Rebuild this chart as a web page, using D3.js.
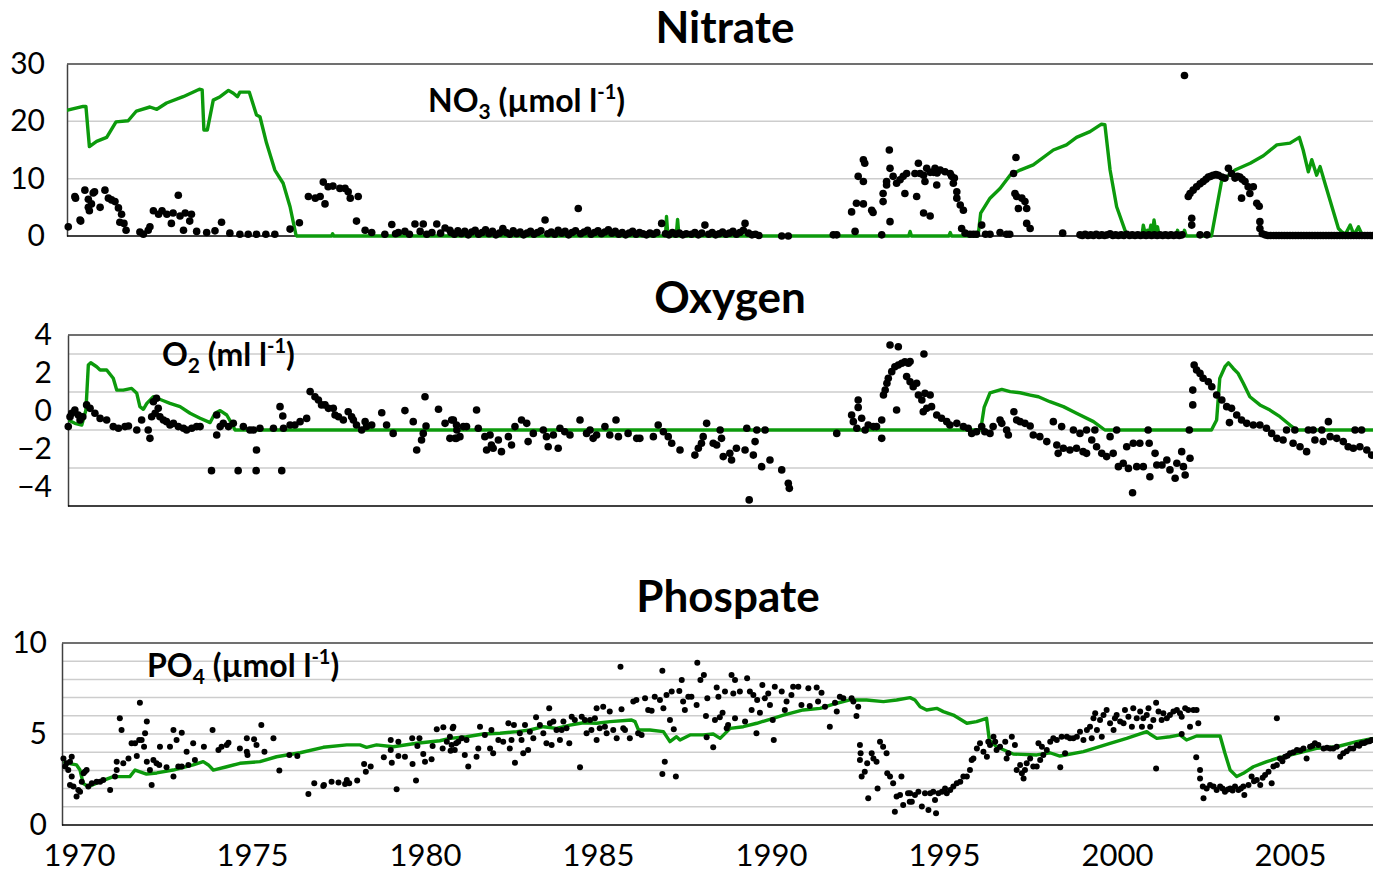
<!DOCTYPE html>
<html><head><meta charset="utf-8">
<script src="https://cdn.jsdelivr.net/npm/d3@7"></script>
<style>
body{margin:0;background:#fff}
svg{display:block}
text{font-family:Lato,"Open Sans",sans-serif;fill:#000}
</style>
</head><body>
<svg id="chart" width="1373" height="874"></svg>
<script>
// ---------------- DATA ----------------
const yearTicks = [1970,1975,1980,1985,1990,1995,2000,2005];
const nitrateTicks = [0,10,20,30];
const nitrateGrid = [10,20];
const oxygenTicks = [-4,-2,0,2,4];
const oxygenGrid = [-3,-1,1,3];
const phosphateTicks = [0,5,10];
const phosphateGrid = [1,2,3,4,5,6,7,8,9];

const nitrateModel = [[1969.64,21.9],[1970.12,22.6],[1970.2,22.6],[1970.3,15.6],[1970.51,16.5],[1970.8,17.2],[1971.07,19.9],[1971.42,20.1],[1971.66,21.8],[1972.05,22.5],[1972.25,22.1],[1972.53,23.2],[1973.01,24.3],[1973.48,25.6],[1973.56,25.5],[1973.61,18.5],[1973.71,18.5],[1973.88,23.7],[1974.08,24.3],[1974.32,25.4],[1974.46,24.9],[1974.58,24.3],[1974.65,25.1],[1974.92,25.1],[1975.13,21.1],[1975.23,20.8],[1975.42,16.2],[1975.66,11.5],[1975.9,9.2],[1976.1,5.1],[1976.27,0.2],[1976.3,0],[1977.3,0],[1977.33,0.4],[1977.36,0],[1986.95,0],[1986.98,3.4],[1987.02,0],[1987.26,0],[1987.3,2.9],[1987.34,0],[1993.98,0],[1994.02,0.8],[1994.06,0],[1995.14,0],[1995.18,0.6],[1995.22,0],[1995.97,0],[1996.0,0.8],[1996.06,4.0],[1996.33,6.6],[1996.62,8.3],[1996.91,10.6],[1997.2,11.5],[1997.58,12.4],[1998.16,15.0],[1998.54,15.9],[1998.83,17.2],[1999.22,18.2],[1999.55,19.5],[1999.65,19.4],[1999.8,11.5],[1999.99,5.1],[2000.26,0.5],[2000.3,0],[2000.72,0],[2000.76,1.9],[2000.82,0.3],[2000.88,1.0],[2000.93,0.4],[2000.98,1.9],[2001.03,0.6],[2001.07,2.8],[2001.12,0.8],[2001.17,1.6],[2001.22,0],[2001.7,0],[2001.75,1.0],[2001.8,0],[2001.9,0],[2001.95,1.0],[2002.0,0],[2002.73,0],[2003.02,9.5],[2003.41,11.5],[2003.85,12.7],[2004.23,14.0],[2004.62,15.9],[2005.0,16.2],[2005.27,17.2],[2005.38,15.0],[2005.53,11.2],[2005.63,13.3],[2005.77,10.6],[2005.87,12.1],[2006.01,9.2],[2006.4,1.3],[2006.49,0.75],[2006.6,0.3],[2006.74,1.9],[2006.85,0.2],[2006.98,1.6],[2007.1,0],[2007.6,0]];

const nitrateObs = [[1969.69,1.6],[1969.88,6.9],[1969.9,6.6],[1970.03,2.8],[1970.05,2.6],[1970.17,8.0],[1970.27,6.4],[1970.27,5.0],[1970.41,7.5],[1970.45,7.7],[1970.36,5.6],[1970.3,4.4],[1970.61,5.0],[1970.75,8.0],[1970.85,6.6],[1970.94,6.3],[1971.04,6.0],[1971.14,4.9],[1971.23,3.8],[1971.18,2.4],[1971.3,2.2],[1971.36,1.0],[1971.76,0.7],[1971.86,0.3],[1972.0,1.0],[1972.05,1.6],[1972.15,4.4],[1972.3,3.8],[1972.4,4.4],[1972.54,3.8],[1972.67,2.2],[1972.72,4.0],[1972.87,7.1],[1972.92,3.5],[1973.07,4.0],[1973.2,2.6],[1973.25,3.8],[1973.02,1.0],[1973.4,0.8],[1973.69,0.6],[1973.93,0.9],[1974.12,2.4],[1974.36,0.5],[1974.65,0.3],[1974.89,0.3],[1975.13,0.3],[1975.4,0.3],[1975.66,0.3],[1976.1,1.2],[1976.37,2.3],[1976.63,6.9],[1976.83,6.6],[1976.97,6.9],[1977.06,9.4],[1977.11,5.6],[1977.2,8.6],[1977.34,8.7],[1977.54,8.3],[1977.69,8.3],[1977.78,7.7],[1977.84,6.6],[1978.07,6.9],[1978.02,2.6],[1978.27,1.0],[1978.46,0.6],[1978.84,0.3],[1979.04,2.0],[1979.15,0.4],[1979.23,0.6],[1979.42,0.8],[1979.55,0.3],[1979.71,2.1],[1979.95,2.1],[1979.86,0.8],[1980.05,0.3],[1980.2,0.6],[1980.34,2.1],[1980.45,0.5],[1980.58,1.4],[1980.72,1.0],
[1980.75,0.6],[1980.85,0.3],[1980.95,0.9],[1981.05,0.4],[1981.15,0.8],[1981.25,0.2],[1981.35,0.7],[1981.45,1.0],[1981.55,0.3],[1981.65,0.6],[1981.75,1.1],[1981.85,0.4],[1981.95,0.8],[1982.05,0.2],[1982.15,0.5],[1982.25,1.3],[1982.35,0.6],[1982.45,0.3],[1982.55,0.9],[1982.65,0.4],[1982.75,0.7],[1982.85,0.2],[1982.95,0.5],[1983.05,0.8],[1983.15,0.3],[1983.25,0.6],[1983.35,0.9],[1983.47,2.8],[1983.55,0.4],[1983.65,0.7],[1983.75,0.3],[1983.85,1.0],[1983.95,0.5],[1984.05,0.8],[1984.15,0.2],[1984.25,0.6],[1984.35,0.9],[1984.43,4.8],[1984.5,0.4],[1984.6,0.7],[1984.7,1.0],[1984.8,0.3],[1984.9,0.6],[1985.0,0.9],[1985.1,0.4],[1985.2,0.7],[1985.3,1.1],[1985.4,0.5],[1985.5,0.8],[1985.6,0.3],[1985.7,0.6],[1985.8,0.2],[1985.9,0.5],[1986.0,0.8],[1986.1,0.3],[1986.2,0.6],[1986.3,0.4],[1986.4,0.2],[1986.5,0.5],[1986.6,0.3],[1986.7,0.6],[1986.84,2.2],[1986.95,0.4],[1987.05,0.2],[1987.15,0.6],[1987.25,0.3],[1987.35,0.5],[1987.45,0.2],[1987.55,0.4],[1987.7,0.3],[1987.8,0.6],[1987.9,0.2],[1988.0,0.5],[1988.09,1.9],[1988.2,0.3],[1988.3,0.6],[1988.4,0.2],[1988.5,0.4],[1988.6,0.7],[1988.7,0.3],[1988.8,0.5],[1988.9,0.8],[1989.0,0.3],[1989.1,0.6],[1989.2,1.0],[1989.25,2.2],[1989.35,0.5],[1989.45,0.2],[1989.55,0.3],[1989.65,0.1],[1990.31,0.0],[1990.5,0.0],[1991.8,0.2],[1991.9,0.2],
[1992.33,4.2],[1992.43,0.8],[1992.47,5.7],[1992.52,10.4],[1992.67,9.5],[1992.67,13.3],[1992.71,12.7],[1992.67,5.6],[1992.91,4.5],[1992.95,4.1],[1993.2,0.2],[1993.24,7.4],[1993.24,6.0],[1993.34,9.5],[1993.34,8.9],[1993.42,15.0],[1993.44,11.8],[1993.44,2.5],[1993.53,10.4],[1993.63,9.2],[1993.73,9.8],[1993.82,10.4],[1993.87,7.4],[1993.92,10.9],
[1994.16,10.9],[1994.26,12.7],[1994.21,6.9],[1994.31,10.9],[1994.41,10.6],[1994.45,9.5],[1994.5,11.8],[1994.41,4.0],[1994.6,3.5],[1994.6,11.1],[1994.7,11.1],[1994.74,11.8],[1994.79,8.9],[1994.8,11.0],[1994.89,11.5],[1995.03,11.2],[1995.18,10.9],[1995.22,10.4],[1995.27,9.2],[1995.3,10.1],[1995.37,7.7],[1995.37,6.6],[1995.47,5.4],[1995.56,4.5],[1995.51,1.3],[1995.61,0.5],[1995.75,0.3],[1995.85,0.3],[1995.94,0.3],[1996.09,1.9],[1996.2,0.3],[1996.33,0.3],[1996.62,0.6],[1996.81,0.3],[1996.9,0.3],[1997.01,10.9],[1997.08,13.7],[1997.05,7.4],[1997.1,6.9],[1997.25,6.6],[1997.34,6.0],[1997.39,4.8],[1997.15,4.8],[1997.39,2.2],[1997.49,1.3],[1998.43,0.5],
[1998.93,0.2],[1999.0,0.1],[1999.08,0.3],[1999.16,0.1],[1999.24,0.2],[1999.32,0.1],[1999.4,0.3],[1999.48,0.1],[1999.56,0.2],[1999.64,0.1],[1999.72,0.2],[1999.8,0.4],[1999.88,0.1],[1999.96,0.2],[2000.04,0.1],[2000.12,0.2],[2000.2,0.1],[2000.28,0.3],[2000.36,0.1],[2000.44,0.2],[2000.52,0.1],[2000.6,0.2],[2000.68,0.1],[2000.76,0.2],[2000.84,0.1],[2000.92,0.2],[2001.0,0.1],[2001.08,0.2],[2001.16,0.1],[2001.24,0.2],[2001.32,0.1],[2001.4,0.2],[2001.48,0.1],[2001.56,0.2],[2001.64,0.1],[2001.72,0.2],[2001.8,0.1],[2001.88,0.2],
[2001.95,28.0],[2002.06,6.9],[2002.16,3.1],[2002.16,1.9],[2002.4,0.2],[2002.6,0.2],
[2002.11,7.4],[2002.2,8.0],[2002.3,8.6],[2002.4,9.1],[2002.49,9.5],[2002.57,9.9],[2002.64,10.3],[2002.71,10.4],[2002.78,10.6],[2002.86,10.7],[2002.93,10.6],[2003.03,10.3],[2003.12,10.1],[2003.22,11.8],[2003.31,10.9],[2003.41,10.1],[2003.48,10.4],[2003.55,10.3],[2003.62,9.9],[2003.7,9.5],[2003.79,8.6],[2003.94,8.6],[2003.6,6.6],[2003.84,7.4],[2004.04,5.7],[2004.11,5.2],[2004.13,2.5],[2004.13,1.3],
[2004.2,0.4],[2004.28,0.2],[2004.36,0.1],[2004.44,0.1],[2004.52,0.1],[2004.6,0.1],[2004.68,0.1],[2004.76,0.1],[2004.84,0.1],[2004.92,0.1],[2005.0,0.1],[2005.08,0.1],[2005.16,0.1],[2005.24,0.1],[2005.32,0.1],[2005.4,0.1],[2005.48,0.1],[2005.56,0.1],[2005.64,0.1],[2005.72,0.1],[2005.8,0.1],[2005.88,0.1],[2005.96,0.1],[2006.04,0.1],[2006.12,0.1],[2006.2,0.1],[2006.28,0.1],[2006.36,0.1],[2006.44,0.1],[2006.52,0.1],[2006.6,0.1],[2006.68,0.1],[2006.76,0.1],[2006.84,0.1],[2006.92,0.1],[2007.0,0.1],[2007.08,0.1],[2007.16,0.1],[2007.24,0.1],[2007.32,0.1],[2007.4,0.1]];

const oxygenModel = [[1969.69,-0.47],[1969.88,-0.65],[1970.08,-0.74],[1970.2,0.05],[1970.27,2.42],[1970.34,2.54],[1970.51,2.33],[1970.61,2.16],[1970.8,2.16],[1970.99,1.72],[1971.09,1.1],[1971.28,1.1],[1971.52,1.19],[1971.67,0.93],[1971.76,0.23],[1971.86,0.09],[1971.96,0.4],[1972.15,0.75],[1972.44,0.54],[1972.63,0.4],[1972.92,0.23],[1973.21,-0.12],[1973.5,-0.38],[1973.79,-0.61],[1973.93,-0.12],[1974.08,0.02],[1974.27,-0.21],[1974.41,-0.65],[1974.51,-1.0],[1996.05,-1.0],[1996.09,-0.65],[1996.16,0.19],[1996.33,0.96],[1996.67,1.14],[1996.91,1.02],[1997.2,0.96],[1997.49,0.84],[1997.73,0.75],[1998.06,0.49],[1998.45,0.23],[1998.83,-0.12],[1999.32,-0.56],[1999.65,-1.0],[2002.73,-1.0],[2002.88,-0.47],[2002.97,1.72],[2003.12,2.33],[2003.22,2.54],[2003.36,2.24],[2003.5,1.98],[2003.65,1.46],[2003.84,0.75],[2004.13,0.32],[2004.42,0.05],[2004.71,-0.3],[2005.0,-0.74],[2005.19,-1.0],[2007.6,-1.0]];

const oxygenObs = [[1969.69,-0.82],[1969.74,-0.3],[1969.79,-0.12],[1969.88,0.05],[1969.98,-0.21],[1970.03,-0.47],[1970.11,-0.3],[1970.22,0.32],[1970.32,0.14],[1970.46,-0.12],[1970.61,-0.39],[1970.8,-0.47],[1970.99,-0.82],[1971.14,-0.91],[1971.33,-0.82],[1971.43,-0.79],[1971.67,-1.0],[1971.81,-0.47],[1972.0,-1.0],[1972.05,-1.44],[1972.1,-0.3],[1972.15,0.49],[1972.24,0.67],[1972.2,-0.12],[1972.29,0.14],[1972.34,-0.3],[1972.44,-0.47],[1972.53,-0.56],[1972.63,-0.74],[1972.73,-0.65],[1972.87,-0.82],[1973.02,-0.91],[1973.11,-1.0],[1973.26,-0.91],[1973.4,-0.82],[1973.5,-0.82],[1973.83,-3.14],[1973.98,-0.21],[1973.98,-1.26],[1974.08,-0.82],[1974.17,-0.65],[1974.32,-0.82],[1974.46,-0.65],[1974.6,-3.14],[1974.75,-0.82],[1974.94,-1.0],[1975.04,-1.0],[1975.23,-0.91],[1975.13,-2.05],[1975.12,-3.14],[1975.62,-0.91],[1975.81,0.23],[1975.89,-0.26],[1975.86,-3.14],[1975.91,-0.91],[1976.1,-0.74],[1976.24,-0.74],[1976.39,-0.56],[1976.58,-0.39],[1976.68,1.02],[1976.82,0.75],[1976.92,0.58],[1977.01,0.32],[1977.11,0.32],[1977.21,0.14],[1977.35,0.14],[1977.4,-0.21],[1977.5,-0.3],[1977.64,-0.47],[1977.78,-0.04],[1977.88,-0.3],[1977.93,-0.47],[1978.02,-0.74],[1978.17,-1.0],[1978.27,-0.56],[1978.31,-0.82],[1978.46,-0.74],[1978.75,-0.09],[1978.89,-0.74],[1979.08,-1.18],[1979.42,0.02],[1979.66,-0.56],[1979.76,-2.05],[1979.9,-1.53],[1979.95,-1.18],[1980.0,0.75],[1980.03,-0.79],[1980.39,0.09],[1980.58,-0.65],[1980.77,-0.47],[1980.87,-1.44],[1980.92,-1.0],
[1980.82,-0.47],[1980.91,-0.74],[1981.11,-0.82],[1981.2,-0.82],[1980.72,-1.44],[1980.91,-1.44],[1981.01,-1.35],[1981.49,0.05],[1981.54,-0.91],[1981.73,-1.35],[1981.88,-1.26],[1981.92,-1.79],[1981.78,-2.05],[1981.97,-1.96],[1982.12,-1.53],[1982.21,-2.14],[1982.41,-1.35],[1982.5,-1.79],[1982.6,-0.82],[1982.79,-0.47],[1982.94,-0.65],[1982.98,-1.61],[1983.13,-1.18],[1983.42,-1.0],[1983.51,-1.35],[1983.56,-1.88],[1983.71,-1.26],[1983.85,-1.96],[1983.9,-0.91],[1984.04,-1.09],[1984.19,-1.26],[1984.48,-0.47],[1984.67,-1.18],[1984.77,-1.0],[1984.86,-1.44],[1984.96,-1.26],[1985.2,-0.82],[1985.34,-1.26],[1985.52,-0.47],[1985.59,-1.35],[1985.87,-1.18],[1986.12,-1.44],[1986.21,-1.44],[1986.6,-1.35],[1986.74,-0.74],[1986.89,-1.09],[1987.03,-1.35],[1987.13,-1.7],[1987.37,-2.05],
[1987.8,-2.32],[1987.9,-1.96],[1987.99,-1.7],[1988.04,-1.35],[1988.14,-0.65],[1988.33,-1.7],[1988.43,-1.79],[1988.53,-1.0],[1988.57,-1.44],[1988.62,-2.4],[1988.81,-2.23],[1988.86,-2.58],[1989.0,-1.96],[1989.25,-2.05],[1989.3,-0.91],[1989.37,-4.68],[1989.49,-2.32],[1989.54,-1.61],[1989.59,-1.0],[1989.73,-2.93],[1989.83,-1.0],[1989.97,-2.58],[1990.31,-3.1],[1990.5,-3.8],[1990.53,-4.07],
[1991.9,-1.18],[1992.33,-0.21],[1992.52,0.58],[1992.52,0.19],[1992.38,-0.56],[1992.48,-0.91],[1992.62,-0.38],[1992.72,-1.0],[1992.81,-0.74],[1992.96,-0.82],[1993.05,-0.82],[1993.2,-0.47],[1993.2,-1.44],[1993.44,3.47],[1993.68,3.38],[1993.25,0.84],[1993.3,1.1],[1993.35,1.46],[1993.39,1.72],[1993.49,2.07],[1993.58,2.33],[1993.68,2.42],[1993.78,2.51],[1993.87,2.59],[1993.97,2.51],[1993.63,0.05],[1993.92,1.81],
[1994.42,3.0],[1994.02,2.6],[1994.02,1.54],[1994.11,1.28],[1994.21,1.46],[1994.26,0.84],[1994.36,0.58],[1994.45,0.93],[1994.6,0.84],[1994.5,0.14],[1994.4,-0.04],[1994.64,0.23],[1994.79,-0.21],[1994.93,-0.38],[1995.08,-0.56],[1995.17,-0.74],[1995.37,-0.65],[1995.56,-0.82],[1995.7,-0.91],[1995.8,-1.18],[1995.94,-1.09],[1996.09,-0.82],[1996.18,-1.09],[1996.33,-1.18],[1996.42,-0.82],[1996.62,-0.47],[1996.67,-0.65],[1996.81,-1.0],[1996.86,-1.26],[1997.02,-0.04],[1997.1,-0.47],[1997.2,-0.56],[1997.34,-0.65],[1997.49,-0.79],[1997.58,-1.26],[1997.77,-1.35],[1997.97,-1.61],[1998.16,-0.56],[1998.26,-1.79],[1998.3,-2.23],[1998.4,-0.82],[1998.45,-1.96],[1998.64,-2.05],[1998.74,-1.0],[1998.83,-1.96],[1998.93,-1.18],[1999.02,-2.14],[1999.12,-2.23],[1999.12,-1.0],[1999.27,-1.53],[1999.36,-1.0],[1999.41,-1.88],[1999.56,-2.23],[1999.7,-2.4],[1999.8,-1.35],[1999.89,-2.23],[1999.99,-1.0],[2000.04,-2.93],[2000.18,-2.75],[2000.28,-1.88],[2000.33,-3.02],[2000.45,-4.3],[2000.47,-1.7],[2000.57,-2.93],[2000.66,-1.7],[2000.76,-2.93],[2000.9,-1.0],[2000.93,-1.7],[2000.95,-3.46],[2001.1,-2.23],[2001.15,-2.84],[2001.3,-2.84],[2001.44,-2.58],[2001.53,-3.1],[2001.68,-3.54],[2001.73,-2.75],[2001.87,-2.14],[2001.92,-2.93],[2001.97,-3.37],[2002.11,-2.49],[2002.09,-1.0],[2002.19,0.32],[2002.19,1.1],[2002.23,2.42],[2002.3,2.16],[2002.4,1.98],[2002.49,1.72],[2002.64,1.54],[2002.74,1.28],[2002.88,0.84],[2003.03,0.58],[2003.17,0.23],[2003.25,-0.61],[2003.31,0.14],[2003.46,-0.21],[2003.6,-0.47],[2003.75,-0.65],[2003.94,-0.74],[2004.13,-0.74],[2004.32,-0.91],[2004.47,-1.18],[2004.62,-1.44],[2004.8,-1.53],[2004.9,-1.0],[2005.14,-1.0],[2005.09,-1.7],[2005.29,-1.88],[2005.48,-2.14],[2005.53,-1.0],[2005.67,-1.0],[2005.72,-1.53],[2005.92,-1.0],[2005.96,-1.61],[2006.11,-0.56],[2006.16,-1.35],[2006.35,-1.44],[2006.54,-1.61],[2006.68,-1.88],[2006.88,-1.0],[2007.07,-1.0],[2006.83,-1.96],[2007.02,-1.88],[2007.22,-2.05],[2007.36,-2.32]];

const phosphateModel = [[1969.55,3.48],[1969.69,3.39],[1969.93,3.3],[1970.03,3.02],[1970.12,2.29],[1970.27,2.1],[1970.61,2.38],[1970.99,2.66],[1971.47,2.66],[1971.62,3.02],[1971.95,2.8],[1972.25,2.86],[1972.72,3.02],[1973.3,3.3],[1973.59,3.48],[1973.74,3.3],[1973.88,3.02],[1974.27,3.2],[1974.65,3.39],[1975.23,3.48],[1975.71,3.75],[1976.39,3.97],[1977.06,4.27],[1977.74,4.4],[1978.12,4.4],[1978.31,4.27],[1978.6,4.4],[1979.08,4.3],[1979.76,4.49],[1980.43,4.63],[1980.72,4.76],[1981.2,4.85],[1981.68,5.0],[1982.17,5.04],[1982.65,5.13],[1983.03,5.22],[1983.42,5.4],[1983.8,5.31],[1984.19,5.49],[1984.58,5.62],[1984.96,5.59],[1985.35,5.68],[1985.97,5.77],[1986.07,5.68],[1986.17,5.22],[1986.5,5.22],[1986.89,5.13],[1987.08,4.58],[1987.27,4.85],[1987.37,4.67],[1987.66,4.95],[1988.04,4.95],[1988.33,5.0],[1988.53,4.76],[1988.82,5.31],[1989.2,5.4],[1989.59,5.59],[1989.97,5.81],[1990.36,6.04],[1990.93,6.32],[1991.42,6.41],[1991.9,6.69],[1992.28,6.87],[1992.76,6.87],[1993.25,6.78],[1993.63,6.87],[1994.02,7.0],[1994.16,6.87],[1994.31,6.5],[1994.5,6.32],[1994.79,6.41],[1994.98,6.23],[1995.27,6.04],[1995.66,5.59],[1995.94,5.68],[1996.23,5.86],[1996.31,4.67],[1996.52,4.3],[1997.0,3.9],[1997.68,3.85],[1998.06,3.97],[1998.35,3.79],[1999.03,4.03],[1999.8,4.49],[2000.28,4.76],[2000.86,5.13],[2000.95,5.0],[2001.15,4.76],[2001.53,4.85],[2001.82,4.95],[2002.01,4.67],[2002.3,4.89],[2002.98,4.89],[2003.12,3.94],[2003.27,3.02],[2003.46,2.66],[2003.65,2.84],[2003.94,3.2],[2004.33,3.48],[2004.62,3.66],[2005.2,3.94],[2005.77,4.21],[2006.35,4.3],[2006.93,4.58],[2007.4,4.76],[2007.6,4.85]];

const phosphateObs = [[1969.55,3.66],[1969.6,3.21],[1969.64,3.39],[1969.69,3.02],[1969.74,3.48],[1969.79,3.75],[1969.79,2.66],[1969.74,2.2],[1969.84,2.11],[1969.93,1.56],[1969.98,1.92],[1970.03,1.83],[1970.08,2.38],[1970.13,2.84],[1970.17,2.93],[1970.22,3.02],[1970.27,2.11],[1970.37,2.29],[1970.51,2.38],[1970.61,2.38],[1970.7,2.47],[1970.9,1.92],[1971.04,2.66],[1971.09,3.02],[1971.09,3.48],[1971.18,5.86],[1971.23,5.22],[1971.28,3.39],[1971.43,3.66],[1971.52,4.49],[1971.62,4.49],[1971.67,3.79],[1971.74,4.67],[1971.76,6.72],[1971.81,4.67],[1971.88,4.3],[1971.91,5.04],[1971.96,5.68],[1971.96,3.48],[1972.05,3.02],[1972.1,2.2],[1972.15,3.57],[1972.24,3.39],[1972.32,3.3],[1972.34,4.3],[1972.53,3.17],[1972.63,4.3],[1972.73,2.66],[1972.73,5.22],[1972.82,4.67],[1972.87,3.21],[1972.97,3.21],[1972.97,5.07],[1973.11,4.03],[1973.16,3.3],[1973.3,4.49],[1973.35,3.57],[1973.61,4.3],[1973.86,5.22],[1974.03,4.12],[1974.12,4.3],[1974.27,4.4],[1974.32,4.52],[1974.65,4.21],[1974.85,4.76],[1974.85,4.03],[1974.87,3.85],[1975.06,4.71],[1975.13,4.4],[1975.27,5.49],[1975.36,4.03],[1975.62,4.76],[1975.79,2.99],[1976.08,3.85],[1976.31,3.79],[1976.63,1.7],[1976.8,2.29],[1977.06,2.14],[1977.08,2.2],[1977.3,2.38],[1977.5,2.33],[1977.69,2.25],[1977.74,2.47],[1977.81,2.29],[1978.04,2.44],[1978.24,3.35],[1978.29,2.93],[1978.43,3.21],[1978.81,3.72],[1979.01,4.12],[1979.04,3.42],[1979.01,4.67],[1979.18,1.96],[1979.23,4.58],[1979.23,3.79],[1979.42,3.75],[1979.63,4.76],[1979.64,3.35],[1979.74,2.44],[1979.78,4.34],[1979.84,4.76],[1979.95,3.9],[1980.0,3.48],[1980.19,3.61],[1980.22,4.34],[1980.34,5.26],[1980.51,4.21],[1980.53,5.37],[1980.63,4.58],[1980.74,4.08],[1980.8,5.31],[1980.9,4.49],
[1980.82,5.4],[1980.72,4.85],[1980.77,4.4],[1980.86,4.12],[1980.96,4.58],[1981.06,4.76],[1981.15,3.85],[1981.25,3.21],[1981.2,4.67],[1981.49,3.75],[1981.54,4.21],[1981.59,5.4],[1981.73,4.95],[1981.88,4.21],[1981.92,5.22],[1981.97,3.94],[1982.12,4.67],[1982.26,4.58],[1982.41,5.59],[1982.45,4.21],[1982.5,4.67],[1982.57,5.49],[1982.6,3.42],[1982.74,5.04],[1982.79,4.67],[1982.84,3.94],[1982.89,5.49],[1982.98,4.12],[1983.03,5.13],[1983.13,4.76],[1983.21,5.92],[1983.32,5.49],[1983.42,5.04],[1983.51,4.49],[1983.59,6.41],[1983.61,5.59],[1983.66,4.4],[1983.71,5.68],[1983.8,5.22],[1983.9,4.67],[1983.95,5.22],[1984.0,5.68],[1984.09,5.31],[1984.17,4.49],[1984.24,5.95],[1984.33,5.77],[1984.48,3.17],[1984.53,5.95],[1984.62,5.77],[1984.67,5.04],[1984.77,5.77],[1984.81,5.22],[1984.91,5.86],[1984.96,4.67],[1984.96,6.41],[1985.05,5.31],[1985.15,6.5],[1985.2,5.4],[1985.25,5.04],[1985.34,6.23],[1985.44,5.22],[1985.54,4.76],[1985.65,8.7],[1985.68,6.36],[1985.73,5.31],[1985.78,5.22],[1985.92,4.76],[1986.02,6.78],[1986.11,6.87],[1986.16,5.04],[1986.26,4.95],[1986.36,6.96],[1986.45,6.32],[1986.55,6.28],[1986.64,7.05],[1986.79,6.87],[1986.86,8.48],[1986.89,6.41],[1986.86,2.8],[1986.93,3.48],[1986.98,7.14],[1987.08,5.77],[1987.13,7.33],[1987.19,5.26],[1987.25,2.66],[1987.35,7.36],[1987.42,7.97],[1987.46,6.78],[1987.51,6.32],[1987.61,7.05],[1987.7,7.05],[1987.85,6.59],[1987.87,8.92],[1987.96,7.97],[1988.06,8.24],[1988.12,5.99],[1988.14,4.82],[1988.16,6.96],[1988.33,4.27],[1988.38,5.77],[1988.43,7.56],[1988.48,7.05],[1988.52,5.92],[1988.6,6.17],[1988.67,7.33],[1988.72,5.31],[1988.76,5.49],[1988.86,8.24],[1988.91,7.23],[1988.96,5.86],[1988.96,7.97],[1989.1,7.33],[1989.25,5.68],[1989.31,8.06],[1989.39,7.33],[1989.44,6.32],[1989.49,7.14],[1989.58,5.04],[1989.6,6.87],[1989.68,6.17],[1989.75,7.69],[1989.82,6.96],[1989.92,7.23],[1989.97,6.59],[1990.05,5.77],[1990.08,4.67],[1990.11,7.6],[1990.31,7.33],[1990.4,6.32],[1990.45,6.78],[1990.59,7.14],[1990.64,7.6],[1990.79,7.6],[1990.88,6.59],[1991.08,7.51],[1991.12,6.54],[1991.32,7.56],[1991.36,6.78],[1991.46,7.27],[1991.56,6.5],[1991.7,5.4],[1991.85,6.72],[1991.9,6.23],[1991.99,7.05],[1992.09,6.96],[1992.33,6.96],[1992.38,6.78],[1992.47,5.99],[1992.52,6.5],[1992.57,4.4],[1992.59,3.94],[1992.57,3.57],[1992.62,2.66],[1992.71,2.93],[1992.78,3.39],[1992.81,1.47],[1992.91,3.94],[1992.96,3.66],[1993.05,3.48],[1993.08,2.01],[1993.15,4.58],[1993.24,4.3],[1993.34,3.94],[1993.36,2.84],[1993.44,2.66],[1993.53,2.29],[1993.58,0.73],[1993.63,1.56],[1993.73,1.65],[1993.77,2.66],[1993.82,1.1],[1993.96,1.74],[1994.01,1.28],
[1994.02,1.74],[1994.07,1.28],[1994.16,1.65],[1994.26,1.83],[1994.36,1.01],[1994.45,1.74],[1994.55,0.82],[1994.6,1.74],[1994.69,1.83],[1994.77,0.64],[1994.74,1.37],[1994.84,1.74],[1994.94,1.83],[1995.03,2.01],[1995.08,1.74],[1995.18,1.92],[1995.27,2.11],[1995.37,2.29],[1995.47,2.38],[1995.56,2.66],[1995.66,2.66],[1995.75,3.02],[1995.8,3.57],[1995.85,3.66],[1995.95,4.21],[1996.04,4.49],[1996.14,4.03],[1996.24,3.75],[1996.28,4.58],[1996.33,4.4],[1996.43,4.85],[1996.48,4.58],[1996.52,4.12],[1996.62,4.3],[1996.77,4.58],[1996.81,3.66],[1996.86,3.94],[1996.96,4.85],[1997.05,4.4],[1997.1,3.02],[1997.2,3.3],[1997.25,2.84],[1997.3,2.56],[1997.34,3.02],[1997.39,3.39],[1997.49,3.66],[1997.58,3.21],[1997.68,3.21],[1997.73,4.49],[1997.78,3.57],[1997.83,4.3],[1997.87,3.85],[1997.97,4.12],[1998.07,4.58],[1998.16,4.76],[1998.26,4.67],[1998.36,3.17],[1998.4,4.85],[1998.5,3.94],[1998.55,4.85],[1998.64,4.76],[1998.74,4.76],[1998.84,4.85],[1998.93,5.13],[1999.03,4.67],[1999.13,5.22],[1999.22,5.4],[1999.27,4.76],[1999.32,5.86],[1999.37,6.14],[1999.42,5.22],[1999.51,5.77],[1999.56,4.85],[1999.61,6.04],[1999.7,6.32],[1999.8,5.59],[1999.9,5.22],[1999.94,5.86],[1999.99,6.04],[2000.09,5.68],[2000.19,5.59],[2000.23,6.32],[2000.33,5.95],[2000.43,5.4],[2000.47,6.41],[2000.57,5.86],[2000.67,6.23],[2000.72,5.4],[2000.76,5.86],[2000.86,6.04],[2000.91,6.41],[2000.96,5.4],[2001.05,5.77],[2001.13,6.72],[2001.13,3.11],[2001.2,6.23],[2001.29,5.77],[2001.34,6.14],[2001.44,5.86],[2001.53,6.04],[2001.63,6.23],[2001.73,6.32],[2001.82,6.14],[2001.87,5.95],[2001.87,5.0],[2001.97,6.41],[2002.06,6.32],[2002.11,5.4],[2002.21,6.32],[2002.3,6.32],[2002.35,5.59],[2002.29,3.72],[2002.4,3.02],[2002.4,2.56],[2002.48,2.11],[2002.5,1.47],[2002.59,2.01],[2002.69,2.2],[2002.79,2.11],[2002.88,1.92],[2002.98,2.11],[2003.05,2.0],[2003.12,1.83],[2003.2,1.95],[2003.27,2.01],[2003.34,1.9],[2003.41,2.11],[2003.51,1.92],[2003.58,2.0],[2003.65,2.11],[2003.68,1.65],[2003.8,2.2],[2003.89,2.66],[2003.96,2.4],[2004.04,2.47],[2004.14,2.2],[2004.21,2.6],[2004.28,2.75],[2004.38,2.93],[2004.47,2.29],[2004.52,3.21],[2004.62,3.3],[2004.62,5.86],[2004.71,3.66],[2004.78,3.5],[2004.86,3.75],[2004.93,3.8],[2005.0,3.94],[2005.1,4.0],[2005.2,4.12],[2005.3,4.1],[2005.39,4.21],[2005.48,3.66],[2005.58,4.3],[2005.65,4.35],[2005.72,4.49],[2005.82,4.4],[2005.97,4.21],[2006.07,4.25],[2006.16,4.21],[2006.25,4.2],[2006.35,4.3],[2006.45,3.75],[2006.54,3.94],[2006.64,4.05],[2006.74,4.21],[2006.83,4.21],[2006.93,4.4],[2007.0,4.35],[2007.07,4.49],[2007.15,4.5],[2007.22,4.58],[2007.3,4.6],[2007.36,4.67]];

// ---------------- DRAWING ----------------
const GREEN = "#0c9a0c";
const svg = d3.select("#chart");
const x = d3.scaleLinear().domain([1970, 2005]).range([79, 1290]);
const RIGHT = 1380;

const panels = [
  {id:"n", left:67, top:64, bottom:236, domain:[0,30], ticks:nitrateTicks, grid:nitrateGrid, pad:22,
   model:nitrateModel, obs:nitrateObs, r:3.8,
   title:"Nitrate", titleX:725, titleY:43,
   ann:{x:428, y:112, base:"NO", sub:"3", unit:" (µmol l", sup:"-1"}},
  {id:"o", left:68, top:335, bottom:506, domain:[-5,4], ticks:oxygenTicks, grid:oxygenGrid, pad:16,
   model:oxygenModel, obs:oxygenObs, r:3.8,
   title:"Oxygen", titleX:730, titleY:313,
   ann:{x:162, y:366, base:"O", sub:"2", unit:" (ml l", sup:"-1"}},
  {id:"p", left:62, top:643, bottom:825, domain:[0,10], ticks:phosphateTicks, grid:phosphateGrid, pad:15,
   model:phosphateModel, obs:phosphateObs, r:3,
   title:"Phospate", titleX:728, titleY:612,
   ann:{x:147, y:677, base:"PO", sub:"4", unit:" (µmol l", sup:"-1"}, xAxis:true}
];

panels.forEach(p => {
  const y = d3.scaleLinear().domain(p.domain).range([p.bottom, p.top]);
  const g = svg.append("g");

  svg.append("clipPath").attr("id", "clip-" + p.id)
    .append("rect").attr("x", p.left).attr("y", p.top - 2)
    .attr("width", RIGHT - p.left).attr("height", p.bottom - p.top + 4);

  g.selectAll("line.grid").data(p.grid).join("line")
    .attr("x1", p.left).attr("x2", RIGHT)
    .attr("y1", d => y(d)).attr("y2", d => y(d))
    .attr("stroke", "#cdcdcd").attr("stroke-width", 1.5);

  g.append("line").attr("x1", p.left).attr("x2", RIGHT)
    .attr("y1", p.top).attr("y2", p.top)
    .attr("stroke", "#404040").attr("stroke-width", 1.5);

  const ya = g.append("g").attr("transform", `translate(${p.left},0)`)
    .call(d3.axisLeft(y).tickValues(p.ticks).tickSize(0).tickSizeOuter(0).tickPadding(p.pad).tickFormat(d3.format("d")));
  ya.select(".domain").attr("stroke", "#404040").attr("stroke-width", 1.5);
  ya.selectAll("text").attr("font-size", 30).style("font-family", "Lato, 'Open Sans', sans-serif").attr("fill", "#000");

  g.append("line").attr("x1", p.left).attr("x2", RIGHT)
    .attr("y1", p.bottom).attr("y2", p.bottom)
    .attr("stroke", "#000").attr("stroke-width", 1.5);

  if (p.xAxis) {
    const xa = g.append("g").attr("transform", `translate(0,${p.bottom})`)
      .call(d3.axisBottom(x).tickValues(yearTicks).tickSize(0).tickSizeOuter(0).tickPadding(19).tickFormat(d3.format("d")));
    xa.select(".domain").remove();
    xa.selectAll("text").attr("font-size", 31).style("font-family", "Lato, 'Open Sans', sans-serif").attr("fill", "#000");
  }

  const line = d3.line().x(d => x(d[0])).y(d => y(d[1]));
  g.append("path").datum(p.model)
    .attr("clip-path", `url(#clip-${p.id})`)
    .attr("d", line).attr("fill", "none")
    .attr("stroke", GREEN).attr("stroke-width", 3.4).attr("stroke-linejoin", "round");

  g.append("g").selectAll("circle").data(p.obs).join("circle")
    .attr("cx", d => x(d[0])).attr("cy", d => y(d[1])).attr("r", p.r).attr("fill", "#000");

  svg.append("text").attr("x", p.titleX).attr("y", p.titleY)
    .attr("text-anchor", "middle").attr("font-size", 44).attr("font-weight", "bold").text(p.title);

  const a = svg.append("text").attr("x", p.ann.x).attr("y", p.ann.y)
    .attr("font-size", 32).attr("font-weight", "bold");
  a.append("tspan").text(p.ann.base);
  a.append("tspan").attr("font-size", 21).attr("dy", 7).text(p.ann.sub);
  a.append("tspan").attr("dy", -7).text(p.ann.unit);
  a.append("tspan").attr("font-size", 20).attr("dy", -13).text(p.ann.sup);
  a.append("tspan").attr("dy", 13).text(")");
});
</script>
</body></html>
